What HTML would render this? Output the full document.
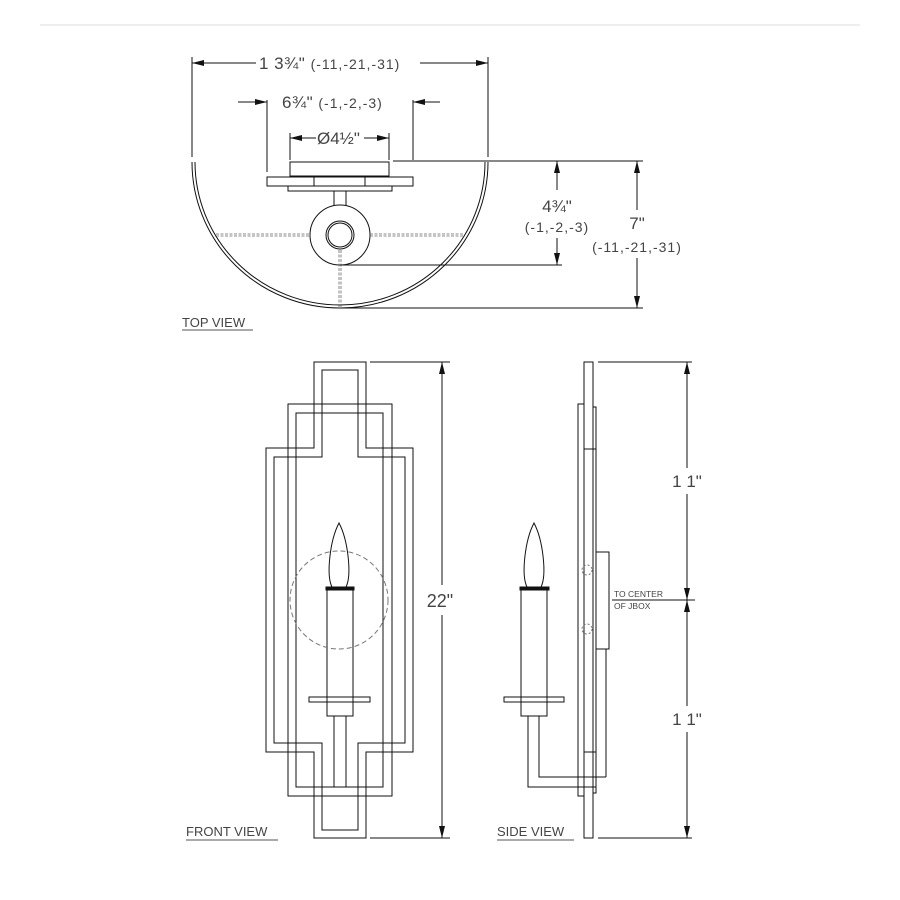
<!DOCTYPE html>
<html><head><style>html,body{margin:0;padding:0;background:#fff}svg{display:block}text{font-family:"Liberation Sans",sans-serif;fill:#444}</style></head>
<body>
<svg width="900" height="900" viewBox="0 0 900 900" xmlns="http://www.w3.org/2000/svg">
<defs>
<marker id="a" viewBox="0 0 12 6" refX="12" refY="3" markerWidth="12" markerHeight="6" orient="auto-start-reverse" markerUnits="userSpaceOnUse"><path d="M0,0 L12,3 L0,6z" fill="#111"/></marker>
</defs>
<line x1="40" y1="25" x2="860" y2="25" stroke="#eee" stroke-width="2"/>
<g stroke="#111" stroke-width="1" fill="none">
<line x1="192" y1="57" x2="192" y2="157"/><line x1="488" y1="57" x2="488" y2="157"/>
<line x1="192" y1="63" x2="256" y2="63" marker-start="url(#a)"/><line x1="420" y1="63" x2="488" y2="63" marker-end="url(#a)"/>
<line x1="267" y1="100" x2="267" y2="172"/><line x1="413" y1="100" x2="413" y2="160"/>
<line x1="238" y1="102" x2="267" y2="102" marker-end="url(#a)"/><line x1="440" y1="102" x2="413" y2="102" marker-end="url(#a)"/>
<line x1="290" y1="133" x2="290" y2="160"/><line x1="389" y1="133" x2="389" y2="160"/>
<line x1="290" y1="138" x2="316" y2="138" marker-start="url(#a)"/><line x1="364" y1="138" x2="389" y2="138" marker-end="url(#a)"/>
<path d="M192,162 A148,146 0 0 0 488,162"/>
<path d="M195,162 A145,143 0 0 0 485,162"/>
<rect x="290" y="162" width="99" height="14"/>
<rect x="267" y="177" width="146" height="9"/>
<line x1="314" y1="177" x2="314" y2="186"/><line x1="365" y1="177" x2="365" y2="186"/>
<rect x="288" y="186" width="104" height="5"/>
<rect x="334" y="191" width="12" height="16"/>
<circle cx="340" cy="235" r="30" fill="#fff"/>
<circle cx="340" cy="235" r="14"/><circle cx="340" cy="235" r="12"/>
<g stroke-dasharray="3,1.5" stroke="#666" stroke-width="0.8"><line x1="216" y1="234" x2="310" y2="234"/><line x1="370" y1="234" x2="464" y2="234"/><line x1="216" y1="236" x2="310" y2="236"/><line x1="370" y1="236" x2="464" y2="236"/>
<line x1="339" y1="250" x2="339" y2="307"/><line x1="341" y1="250" x2="341" y2="307"/></g>
<line x1="393" y1="161" x2="643" y2="161"/>
<line x1="340" y1="265" x2="562" y2="265"/>
<line x1="340" y1="308" x2="643" y2="308"/>
<line x1="557" y1="161" x2="557" y2="190" marker-start="url(#a)"/><line x1="557" y1="238" x2="557" y2="265" marker-end="url(#a)"/>
<line x1="637" y1="161" x2="637" y2="210" marker-start="url(#a)"/><line x1="637" y1="258" x2="637" y2="308" marker-end="url(#a)"/>
<line x1="182" y1="330" x2="253" y2="330" stroke="#555"/>
<path d="M314,362H366V448H413V752H366V838H314V752H266V448H314Z"/>
<path d="M322,370H358V457H405V743H358V830H322V743H274V457H322Z"/>
<rect x="288" y="404" width="104" height="392"/>
<rect x="296" y="413" width="87" height="374"/>
<path d="M339,523 C330,540 326,575 332,587 L346,587 C352,575 348,540 339,523Z"/>
<rect x="326" y="587" width="28" height="3" fill="#111"/>
<rect x="327" y="590" width="26" height="126"/>
<rect x="309" y="697" width="61" height="5"/>
<line x1="334" y1="716" x2="334" y2="787"/><line x1="346" y1="716" x2="346" y2="787"/>
<circle cx="339" cy="600" r="49" stroke="#777" stroke-dasharray="5,3"/>
<line x1="370" y1="362" x2="450" y2="362"/><line x1="370" y1="838" x2="450" y2="838"/>
<line x1="442" y1="362" x2="442" y2="585" marker-start="url(#a)"/><line x1="442" y1="615" x2="442" y2="838" marker-end="url(#a)"/>
<line x1="186" y1="840" x2="278" y2="840" stroke="#555"/>
<rect x="584" y="362" width="9" height="476"/>
<rect x="578" y="404" width="6" height="392"/>
<rect x="593" y="407" width="3" height="386"/>
<line x1="584" y1="449" x2="596" y2="449"/><line x1="584" y1="752" x2="596" y2="752"/>
<rect x="596" y="552" width="13" height="97"/>
<line x1="606" y1="649" x2="606" y2="777"/>
<circle cx="587" cy="570" r="5" stroke="#777" stroke-dasharray="2,2"/>
<circle cx="587" cy="629" r="5" stroke="#777" stroke-dasharray="2,2"/>
<path d="M534,523 C525,540 521,575 527,587 L541,587 C547,575 543,540 534,523Z"/>
<rect x="520" y="587" width="29" height="3" fill="#111"/>
<rect x="521" y="590" width="26" height="126"/>
<rect x="504" y="697" width="60" height="5"/>
<path d="M528,716V787H596M539,716V777H606"/>
<line x1="598" y1="362" x2="692" y2="362"/><line x1="598" y1="838" x2="692" y2="838"/>
<line x1="612" y1="600" x2="695" y2="600"/>
<line x1="687" y1="362" x2="687" y2="468" marker-start="url(#a)"/><line x1="687" y1="494" x2="687" y2="600" marker-end="url(#a)"/>
<line x1="687" y1="600" x2="687" y2="706" marker-start="url(#a)"/><line x1="687" y1="732" x2="687" y2="838" marker-end="url(#a)"/>
<line x1="497" y1="840" x2="574" y2="840" stroke="#555"/>
</g>
<g font-size="17">
<text x="259" y="69" letter-spacing="0.5">1 3¾" <tspan font-size="14" letter-spacing="1">(-11,-21,-31)</tspan></text>
<text x="282" y="108" letter-spacing="0.5">6¾" <tspan font-size="14" letter-spacing="1">(-1,-2,-3)</tspan></text>
<text x="317" y="144">Ø4½"</text>
<text x="557" y="212" text-anchor="middle">4¾"</text>
<text x="557" y="232" text-anchor="middle" font-size="14" letter-spacing="1">(-1,-2,-3)</text>
<text x="637" y="229" text-anchor="middle">7"</text>
<text x="637" y="252" text-anchor="middle" font-size="14" letter-spacing="1">(-11,-21,-31)</text>
<text x="182" y="327" font-size="13">TOP VIEW</text>
<text x="440" y="607" text-anchor="middle" font-size="18">22"</text>
<text x="687" y="487" text-anchor="middle">1 1"</text>
<text x="687" y="725" text-anchor="middle">1 1"</text>
<text x="614" y="597" font-size="8.5">TO CENTER</text>
<text x="614" y="609" font-size="8.5">OF JBOX</text>
<text x="186" y="836" font-size="13">FRONT VIEW</text>
<text x="497" y="836" font-size="13">SIDE VIEW</text>
</g>
</svg>
</body></html>
